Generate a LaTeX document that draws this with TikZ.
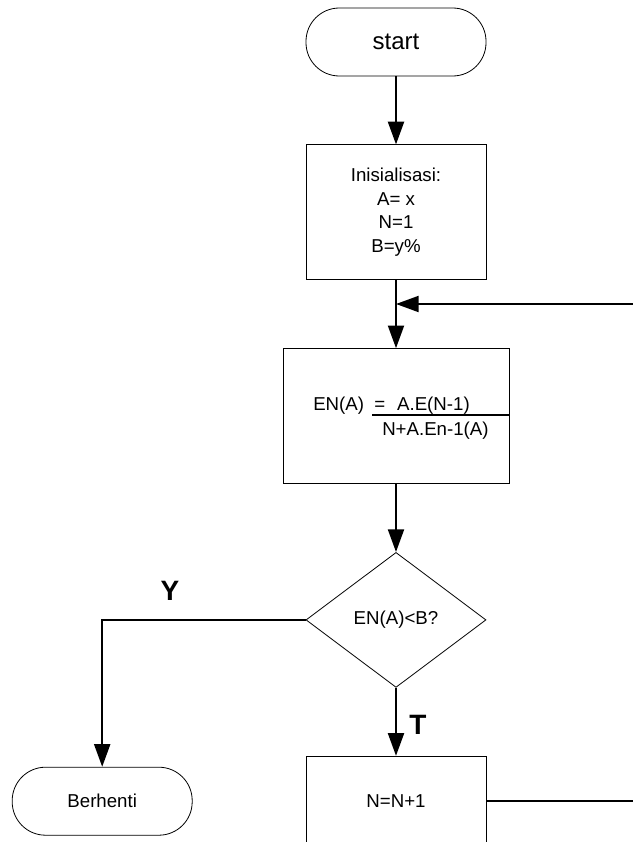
\documentclass[tikz,border=0pt]{standalone}
\usepackage{fontspec}
\setmainfont{Liberation Sans}
\usetikzlibrary{arrows.meta, positioning, shapes.geometric, calc}

\begin{document}
\begin{tikzpicture}[
    x=0.75pt, y=-0.75pt,
    node distance=51pt,
    font=\fontsize{14pt}{17.8pt}\selectfont,
    term/.style={rectangle, draw, rounded corners=25pt, minimum width=135pt, minimum height=51pt, inner sep=0pt, line width=0.6pt},
    box/.style={rectangle, draw, minimum width=#1, minimum height=101.25pt, inner sep=0pt, line width=0.6pt, align=center},
    decision/.style={diamond, draw, minimum width=135pt, minimum height=101.25pt, aspect=1.333, inner sep=0pt, line width=0.6pt},
    flow/.style={line width=1.5pt, -{Triangle[length=17pt, width=12pt]}},
    lbl/.style={font=\fontsize{21pt}{21pt}\selectfont\bfseries}
]
\useasboundingbox (0,0) rectangle (632,842);

\node[term, font=\fontsize{18pt}{18pt}\selectfont] (start) at (396,42) {start};
\node[box=135pt, below=of start] (init) {Inisialisasi:\\A= x\\N=1\\B=y\%};
\node[box=169.5pt, below=of init] (calc) {};
\node[decision, below=of calc] (dec) {EN(A)<B?};
\node[box=135pt, minimum height=67.5pt, below=of dec] (nbox) {N=N+1};
\node[term, left=84.75pt of nbox] (stop) {Berhenti};

% rumus di dalam kotak
\node[anchor=base west, inner sep=0pt] (lhs) at (313,410) {EN(A)};
\node[anchor=base west, inner sep=0pt] (num) at (374,410) {=\hspace{9pt}A.E(N-1)};
\node[anchor=base west, inner sep=0pt] (den) at (382,435) {N+A.En-1(A)};
\coordinate (barL) at (372,415);
\draw[line width=0.9pt] (barL) -- (barL -| calc.east);

\draw[flow] (start) -- (init);
\draw[flow] (init) -- (calc);
\draw[flow] (calc) -- (dec);
\draw[flow] (dec) -- (nbox);
\draw[flow] (dec.west) -| (stop.north);

% kembali ke atas
\coordinate (join) at ($(init.south)!0.35!(calc.north)$);
\coordinate (loopR) at (660,0);
\draw[flow] (nbox.east) -| (loopR |- join) -- (join);

\node[lbl] (ylbl) at (170,591) {Y};
\node[lbl] (tlbl) at (418,725) {T};
\end{tikzpicture}
\end{document}
